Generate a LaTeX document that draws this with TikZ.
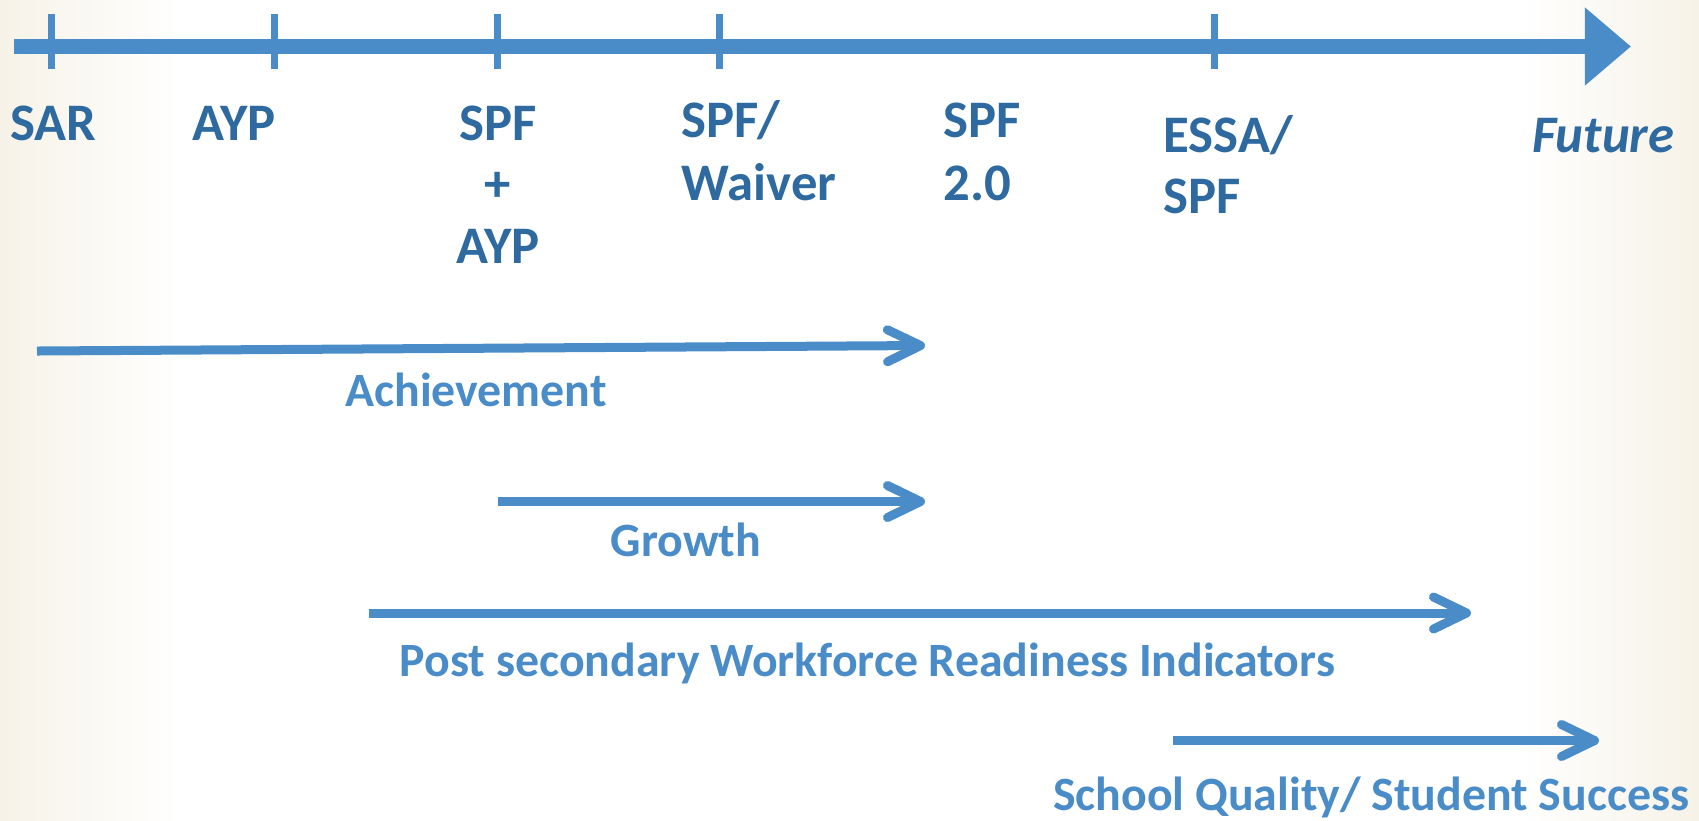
\documentclass[tikz,border=0pt]{standalone}
\usepackage{fontspec}
\setmainfont{Carlito}
\usetikzlibrary{arrows.meta}
\definecolor{axisblue}{RGB}{74,140,200}
\definecolor{labelblue}{RGB}{46,106,160}
\definecolor{cream}{RGB}{246,242,231}
\begin{document}
\begin{tikzpicture}[x=0.01cm,y=-0.01cm,
  toplabel/.style={font=\fontsize{15}{18}\selectfont\bfseries, text=labelblue, inner sep=0pt},
  lowlabel/.style={font=\fontsize{13.6}{16}\selectfont\bfseries, text=axisblue, inner sep=0pt},
  tickmark/.style={draw=axisblue, line width=0.07cm},
  axisline/.style={draw=axisblue, line width=0.15cm, -{Triangle[length=4.6mm,width=7.5mm]}},
  spanarrow/.style={draw=axisblue, line width=0.09cm, -{Straight Barb[length=3.3mm,width=3.2mm,round]}}]
\useasboundingbox (0,0) rectangle (1699,820);
% background
\fill[white] (0,0) rectangle (1699,820);
\shade[left color=cream, right color=white] (0,0) rectangle (180,820);
\shade[left color=white, right color=cream] (1520,0) rectangle (1699,820);
% axis
\coordinate (axS) at (14,46.5);
\coordinate (axE) at (1631,46.5);
\draw[axisline] (axS) -- (axE);
\foreach \i/\x in {1/51.7,2/274.4,3/497.5,4/719,5/1214.5}{
  \coordinate (t\i a) at (\x,14);
  \coordinate (t\i b) at (\x,69);
  \draw[tickmark] (t\i a) -- (t\i b);
}
% top labels
\node[toplabel, anchor=base] (sar) at (53.6,140) {SAR};
\node[toplabel, anchor=base] (ayp) at (234,140) {AYP};
\node[toplabel, anchor=base] (spfa) at (498,140) {SPF};
\node[toplabel, anchor=base] (plus) at (498,201.5) {+};
\node[toplabel, anchor=base] (aypb) at (498,263) {AYP};
\node[toplabel, anchor=base west] (spfw1) at (681,137.5) {SPF/};
\node[toplabel, anchor=base west] (spfw2) at (681,200) {Waiver};
\node[toplabel, anchor=base west] (spf2a) at (943,137.5) {SPF};
\node[toplabel, anchor=base west] (spf2b) at (943,200) {2.0};
\node[toplabel, anchor=base west] (essa1) at (1163,152) {ESSA/};
\node[toplabel, anchor=base west] (essa2) at (1163,213.5) {SPF};
\node[toplabel, anchor=base east] (future) at (1675,152) {\itshape Future};
% span arrows
\coordinate (achS) at (37,351);
\coordinate (achE) at (925,345.5);
\draw[spanarrow] (achS) -- (achE);
\node[lowlabel, anchor=base] (ach) at (476,406) {Achievement};
\coordinate (grS) at (498,501.5);
\coordinate (grE) at (925,501.5);
\draw[spanarrow] (grS) -- (grE);
\node[lowlabel, anchor=base] (gr) at (686,556) {Growth};
\coordinate (psS) at (369,613);
\coordinate (psE) at (1471,613);
\draw[spanarrow] (psS) -- (psE);
\node[lowlabel, anchor=base] (ps) at (867.5,676.5) {Post secondary Workforce Readiness Indicators};
\coordinate (sqS) at (1173,740.5);
\coordinate (sqE) at (1599,740.5);
\draw[spanarrow] (sqS) -- (sqE);
\node[lowlabel, anchor=base east] (sq) at (1690,810) {School Quality/ Student Success};
\end{tikzpicture}
\end{document}
